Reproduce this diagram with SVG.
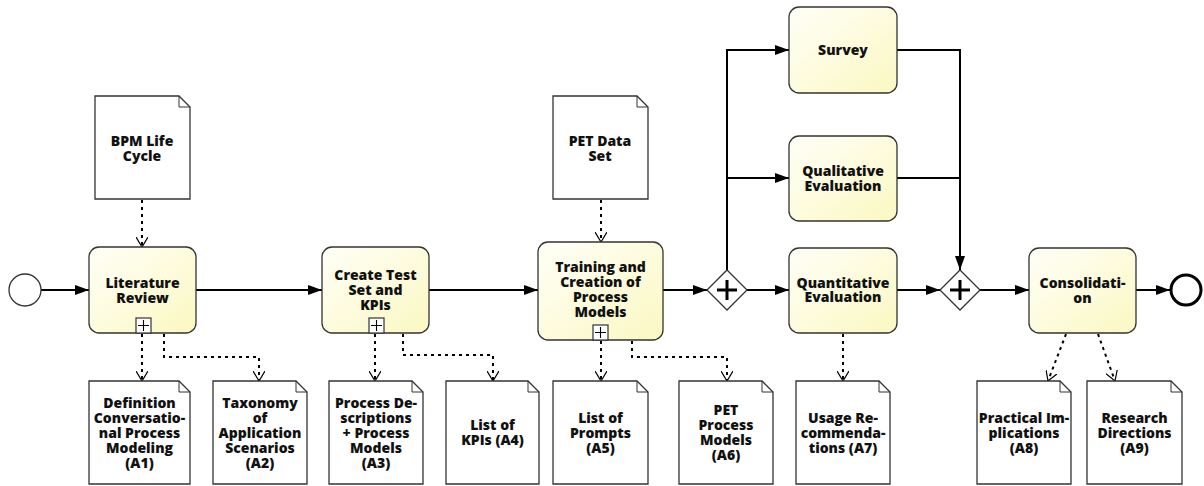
<svg xmlns="http://www.w3.org/2000/svg" width="1204" height="486" viewBox="0 0 1204 486">
<style>
.task{stroke:#333;stroke-width:1.3;fill:url(#tg)}
.doc{fill:#fff;stroke:#333;stroke-width:1.3}
.lbl{font-family:"Open Sans","Noto Sans","Liberation Sans",sans-serif;font-weight:800;font-size:14px;fill:#111;text-anchor:middle}
.flow{fill:none;stroke:#000;stroke-width:2}
.assoc{fill:none;stroke:#000;stroke-width:2;stroke-dasharray:3,4}
.gw{fill:#fff;stroke:#333;stroke-width:1.3}
.mk{fill:#fff;stroke:#333;stroke-width:1.2}
</style>
<defs>
<linearGradient id="tg" x1="0" y1="0" x2="1" y2="1">
<stop offset="0" stop-color="#fffff8"/>
<stop offset="1" stop-color="#fbf8c2"/>
</linearGradient>
<marker id="ah" viewBox="0 0 14 10" refX="14" refY="5" markerWidth="14" markerHeight="10" markerUnits="userSpaceOnUse" orient="auto">
<path d="M0,0 L14,5 L0,10 Z" fill="#000"/>
</marker>
<marker id="oh" viewBox="0 0 10 12" refX="10" refY="6" markerWidth="10" markerHeight="12" markerUnits="userSpaceOnUse" orient="auto">
<path d="M0,0 L10,6 L0,12" fill="none" stroke="#000" stroke-width="1.2"/>
</marker>
</defs>

<g id="connectors">
<line class="flow" x1="41" y1="290" x2="89" y2="290" marker-end="url(#ah)"/>
<line class="flow" x1="196" y1="290" x2="322" y2="290" marker-end="url(#ah)"/>
<line class="flow" x1="429" y1="290" x2="538" y2="290" marker-end="url(#ah)"/>
<line class="flow" x1="663" y1="290" x2="707" y2="290" marker-end="url(#ah)"/>
<line class="flow" x1="747" y1="290" x2="789" y2="290" marker-end="url(#ah)"/>
<polyline class="flow" points="727,270 727,50 789,50" marker-end="url(#ah)"/>
<polyline class="flow" points="727,178 789,178" marker-end="url(#ah)"/>
<polyline class="flow" points="897,50 960,50 960,270" marker-end="url(#ah)"/>
<polyline class="flow" points="897,178 960,178"/>
<line class="flow" x1="897" y1="290" x2="940" y2="290" marker-end="url(#ah)"/>
<line class="flow" x1="980" y1="290" x2="1029" y2="290" marker-end="url(#ah)"/>
<line class="flow" x1="1136" y1="290" x2="1170" y2="290" marker-end="url(#ah)"/>

<line class="assoc" x1="142" y1="200" x2="142" y2="247" marker-end="url(#oh)"/>
<line class="assoc" x1="601" y1="200" x2="601" y2="242" marker-end="url(#oh)"/>
<line class="assoc" x1="142" y1="334" x2="142" y2="381" marker-end="url(#oh)"/>
<polyline class="assoc" points="164,334 164,357 259,357 259,381" marker-end="url(#oh)"/>
<line class="assoc" x1="375" y1="334" x2="375" y2="381" marker-end="url(#oh)"/>
<polyline class="assoc" points="403,334 403,355 493,355 493,381" marker-end="url(#oh)"/>
<line class="assoc" x1="601" y1="341" x2="601" y2="381" marker-end="url(#oh)"/>
<polyline class="assoc" points="632,341 632,357 727,357 727,381" marker-end="url(#oh)"/>
<line class="assoc" x1="843" y1="334" x2="843" y2="381" marker-end="url(#oh)"/>
<line class="assoc" x1="1066" y1="334" x2="1048" y2="381" marker-end="url(#oh)"/>
<line class="assoc" x1="1098" y1="334" x2="1115" y2="381" marker-end="url(#oh)"/>
</g>

<g id="start"><circle cx="25" cy="290" r="16" fill="#fff" stroke="#333" stroke-width="1.3"/></g>
<g id="end"><circle cx="1186" cy="290" r="15" fill="#fff" stroke="#000" stroke-width="3"/></g>

<g id="doc-bpm">
<path class="doc" d="M95,96 H179 L190,107 V199 H95 Z"/>
<path d="M179,96 V107 H190" fill="none" stroke="#333" stroke-width="1"/>
<text class="lbl" x="142" y="146">BPM Life</text><text class="lbl" x="142" y="161">Cycle</text>
</g>
<g id="doc-pet">
<path class="doc" d="M553,96 H637 L648,107 V199 H553 Z"/>
<path d="M637,96 V107 H648" fill="none" stroke="#333" stroke-width="1"/>
<text class="lbl" x="600" y="146">PET Data</text><text class="lbl" x="600" y="161">Set</text>
</g>

<g id="task-lit">
<rect class="task" x="89" y="247" width="107" height="86" rx="10"/>
<text class="lbl" x="142.5" y="288">Literature</text><text class="lbl" x="142.5" y="303">Review</text>
<rect class="mk" x="136" y="318" width="15" height="15"/>
<path d="M143.5,320 V331 M138,325.5 H149" stroke="#000" stroke-width="1.1"/>
</g>
<g id="task-create">
<rect class="task" x="322" y="247" width="107" height="86" rx="10"/>
<text class="lbl" x="375.5" y="280">Create Test</text><text class="lbl" x="375.5" y="295">Set and</text><text class="lbl" x="375.5" y="310">KPIs</text>
<rect class="mk" x="369" y="318" width="15" height="15"/>
<path d="M376.5,320 V331 M371,325.5 H382" stroke="#000" stroke-width="1.1"/>
</g>
<g id="task-train">
<rect class="task" x="538" y="242" width="125" height="98" rx="10"/>
<text class="lbl" x="600.5" y="272">Training and</text><text class="lbl" x="600.5" y="287">Creation of</text><text class="lbl" x="600.5" y="302">Process</text><text class="lbl" x="600.5" y="317">Models</text>
<rect class="mk" x="593" y="325" width="15" height="15"/>
<path d="M600.5,327 V338 M595,332.5 H606" stroke="#000" stroke-width="1.1"/>
</g>

<g id="gw1">
<path class="gw" d="M727,270 L747,290 L727,310 L707,290 Z"/>
<path d="M727,280 V300 M717,290 H737" stroke="#000" stroke-width="3"/>
</g>
<g id="gw2">
<path class="gw" d="M960,270 L980,290 L960,310 L940,290 Z"/>
<path d="M960,280 V300 M950,290 H970" stroke="#000" stroke-width="3"/>
</g>

<g id="task-survey">
<rect class="task" x="789" y="7" width="108" height="86" rx="10"/>
<text class="lbl" x="843" y="55">Survey</text>
</g>
<g id="task-qual">
<rect class="task" x="789" y="136" width="108" height="85" rx="10"/>
<text class="lbl" x="843" y="176">Qualitative</text><text class="lbl" x="843" y="191">Evaluation</text>
</g>
<g id="task-quant">
<rect class="task" x="789" y="248" width="108" height="85" rx="10"/>
<text class="lbl" x="843" y="288">Quantitative</text><text class="lbl" x="843" y="302">Evaluation</text>
</g>
<g id="task-cons">
<rect class="task" x="1029" y="248" width="107" height="85" rx="10"/>
<text class="lbl" x="1082.5" y="288">Consolidati-</text><text class="lbl" x="1082.5" y="303">on</text>
</g>

<g id="doc-a1">
<path class="doc" d="M89,381 H179 L190,392 V484 H89 Z"/>
<path d="M179,381 V392 H190" fill="none" stroke="#333" stroke-width="1"/>
<text class="lbl" x="139.5" y="408">Definition</text><text class="lbl" x="139.5" y="423">Conversatio-</text><text class="lbl" x="139.5" y="438">nal Process</text><text class="lbl" x="139.5" y="453">Modeling</text><text class="lbl" x="139.5" y="468">(A1)</text>
</g>
<g id="doc-a2">
<path class="doc" d="M213,381 H296 L307,392 V484 H213 Z"/>
<path d="M296,381 V392 H307" fill="none" stroke="#333" stroke-width="1"/>
<text class="lbl" x="260" y="408">Taxonomy</text><text class="lbl" x="260" y="423">of</text><text class="lbl" x="260" y="438">Application</text><text class="lbl" x="260" y="453">Scenarios</text><text class="lbl" x="260" y="468">(A2)</text>
</g>
<g id="doc-a3">
<path class="doc" d="M329,381 H412 L423,392 V484 H329 Z"/>
<path d="M412,381 V392 H423" fill="none" stroke="#333" stroke-width="1"/>
<text class="lbl" x="376" y="408">Process De-</text><text class="lbl" x="376" y="423">scriptions</text><text class="lbl" x="376" y="438">+ Process</text><text class="lbl" x="376" y="453">Models</text><text class="lbl" x="376" y="468">(A3)</text>
</g>
<g id="doc-a4">
<path class="doc" d="M446,381 H528 L539,392 V484 H446 Z"/>
<path d="M528,381 V392 H539" fill="none" stroke="#333" stroke-width="1"/>
<text class="lbl" x="492.5" y="430">List of</text><text class="lbl" x="492.5" y="445">KPIs (A4)</text>
</g>
<g id="doc-a5">
<path class="doc" d="M553,381 H637 L648,392 V484 H553 Z"/>
<path d="M637,381 V392 H648" fill="none" stroke="#333" stroke-width="1"/>
<text class="lbl" x="600.5" y="423">List of</text><text class="lbl" x="600.5" y="438">Prompts</text><text class="lbl" x="600.5" y="453">(A5)</text>
</g>
<g id="doc-a6">
<path class="doc" d="M679,381 H762 L773,392 V484 H679 Z"/>
<path d="M762,381 V392 H773" fill="none" stroke="#333" stroke-width="1"/>
<text class="lbl" x="726" y="415">PET</text><text class="lbl" x="726" y="430">Process</text><text class="lbl" x="726" y="445">Models</text><text class="lbl" x="726" y="460">(A6)</text>
</g>
<g id="doc-a7">
<path class="doc" d="M796,381 H879 L890,392 V484 H796 Z"/>
<path d="M879,381 V392 H890" fill="none" stroke="#333" stroke-width="1"/>
<text class="lbl" x="843" y="423">Usage Re-</text><text class="lbl" x="843" y="438">commenda-</text><text class="lbl" x="843" y="453">tions (A7)</text>
</g>
<g id="doc-a8">
<path class="doc" d="M977,381 H1060 L1071,392 V484 H977 Z"/>
<path d="M1060,381 V392 H1071" fill="none" stroke="#333" stroke-width="1"/>
<text class="lbl" x="1024" y="423">Practical Im-</text><text class="lbl" x="1024" y="438">plications</text><text class="lbl" x="1024" y="453">(A8)</text>
</g>
<g id="doc-a9">
<path class="doc" d="M1087,381 H1171 L1182,392 V484 H1087 Z"/>
<path d="M1171,381 V392 H1182" fill="none" stroke="#333" stroke-width="1"/>
<text class="lbl" x="1134.5" y="423">Research</text><text class="lbl" x="1134.5" y="438">Directions</text><text class="lbl" x="1134.5" y="453">(A9)</text>
</g>
</svg>
